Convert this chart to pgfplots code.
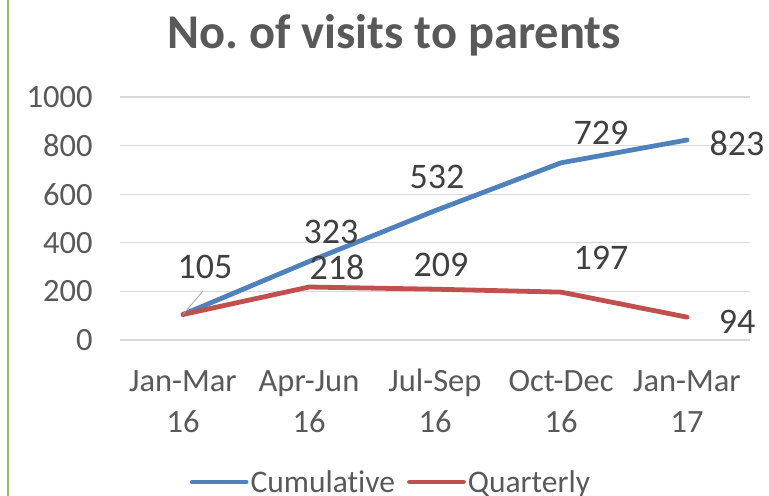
\documentclass[border=0pt]{standalone}
\usepackage{pgfplots}
\pgfplotsset{compat=1.18}
\usepackage{fontspec}
\setmainfont{Carlito}[Ligatures={NoCommon}]
\frenchspacing
\definecolor{cumc}{HTML}{4F81BD}
\definecolor{quac}{HTML}{C0504D}
\definecolor{txt}{HTML}{595959}
\definecolor{lbl}{HTML}{404040}
\definecolor{grd}{HTML}{D9D9D9}
\definecolor{brd}{HTML}{9BBB59}
\begin{document}
\begin{tikzpicture}[x=1bp,y=1bp]
\useasboundingbox (0,0) rectangle (769,496);
\draw[brd, line width=2bp] (8,-5) -- (8,500);
\node[text=txt, font=\fontsize{48.5bp}{52bp}\selectfont\bfseries] at (394,461) {No. of visits to parents};
\begin{axis}[
  at={(120bp,156bp)}, anchor=south west,
  scale only axis, width=630bp, height=243bp,
  xmin=-0.5, xmax=4.5, ymin=0, ymax=1000,
  ytick={0,200,400,600,800,1000},
  xtick={0,1,2,3,4},
  xticklabels={{\strut Jan-Mar\\\strut 16},{\strut Apr-Jun\\\strut 16},{\strut Jul-Sep\\\strut 16},{\strut Oct-Dec\\\strut 16},{\strut Jan-Mar\\\strut 17}},
  axis line style={draw=none},
  major tick length=0pt,
  ymajorgrids, grid style={grd, line width=1.2bp},
  /pgf/number format/assume math mode=true,
  /pgf/number format/1000 sep={},
  tick label style={text=txt, font=\fontsize{32.5bp}{38bp}\selectfont},
  xticklabel style={align=center, yshift=-19bp, font=\fontsize{32.5bp}{41bp}\selectfont},
  yticklabel style={xshift=-24bp},
  legend style={draw=none, fill=none, at={(0.43,-0.584)}, anchor=center,
    legend columns=2, font=\fontsize{31.5bp}{36bp}\selectfont, text=txt,
    /tikz/every even column/.append style={column sep=10bp}},
  legend image code/.code={\draw[#1] (0bp,0bp) -- (54bp,0bp);},
  clip=false,
]
\addplot[cumc, line width=4.8bp, line join=round, line cap=round] coordinates {(0,105) (1,323) (2,532) (3,729) (4,823)};
\addlegendentry{Cumulat\kern0pt ive}
\addplot[quac, line width=4.8bp, line join=round, line cap=round] coordinates {(0,105) (1,218) (2,209) (3,197) (4,94)};
\addlegendentry{Quarterly}
\draw[gray!70, line width=0.8bp] (axis cs:0,105) -- (axis cs:0.159,202);
\begin{scope}[every node/.style={text=lbl, font=\fontsize{36bp}{40bp}\selectfont}]
\node at (axis cs:0.175,300) {105};
\node at (axis cs:1.175,444) {323};
\node at (axis cs:2.016,671) {532};
\node at (axis cs:3.317,852) {729};
\node at (axis cs:4.397,811) {823};
\node at (axis cs:1.222,300) {218};
\node at (axis cs:2.048,309) {209};
\node at (axis cs:3.317,337) {197};
\node at (axis cs:4.397,74) {94};
\end{scope}
\end{axis}
\end{tikzpicture}
\end{document}
